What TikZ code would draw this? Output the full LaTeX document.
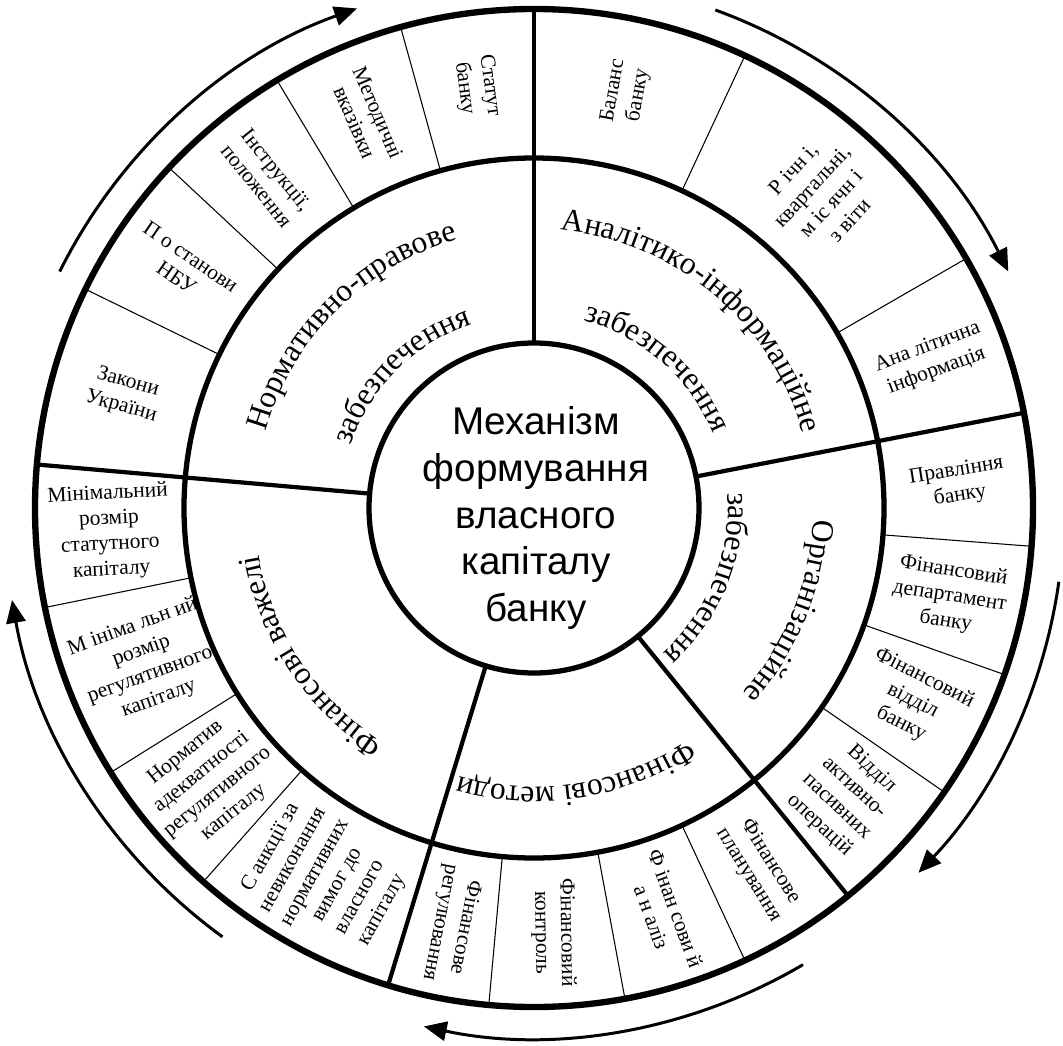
\documentclass[tikz,border=0pt]{standalone}
\usepackage{fontspec}
\setmainfont{Liberation Serif}
\setsansfont{Liberation Sans}
\usetikzlibrary{arrows.meta}
\usetikzlibrary{decorations.text}

\tikzset{
    cell/.style={align=center, inner sep=0pt, font=\fontsize{12.2}{14.5}\selectfont},
    ring/.style={line width=3pt},
    border/.style={line width=2.4pt},
    thinborder/.style={line width=0.6pt},
    flow/.style={line width=1.7pt, -{Triangle[length=13pt, width=11pt]}},
    sectortext/.style={decorate, decoration={text along path, text align=center, text={#1}}},
}
\newcommand{\sectorfont}{\fontsize{18}{21}\selectfont}

\begin{document}
\begin{tikzpicture}[scale=0.02]
    \useasboundingbox (-534,-537) rectangle (529,508);
    \coordinate (O) at (0,0);
    \pgfmathsetmacro{\Rin}{165}  % units of pixels
    \pgfmathsetmacro{\Rmid}{350}  % units of pixels
    \pgfmathsetmacro{\Rout}{499}  % units of pixels
    \pgfmathsetmacro{\Rcell}{425}  % units of pixels
    \pgfmathsetmacro{\Rflow}{530}  % units of pixels
    \pgfmathsetmacro{\Rone}{279}  % baseline of first line
    \pgfmathsetmacro{\Rtwo}{194}  % baseline of second line

    % circles
    \draw[ring] (O) circle (\Rin);
    \draw[ring] (O) circle (\Rmid);
    \draw[ring, line width=3.6pt] (O) circle (\Rout);

    % sector borders
    \foreach \a in {90,11,-51,-107,175}
        \draw[border] (\a:\Rin) -- (\a:\Rout);
    % cell borders
    \foreach \a in {154,137,121,105.5,65,30,-4.4,-19.5,-34.7,-65,-79.5,-95.2,191.5,212,228.5}
        \draw[thinborder] (\a:\Rmid) -- (\a:\Rout);

    % arrows round the wheel
    \draw[flow] (153.5:\Rflow) arc (153.5:109.5:\Rflow);
    \draw[flow] (70:\Rflow) arc (70:26.5:\Rflow);
    \draw[flow] (-8:\Rflow) arc (-8:-43.5:\Rflow);
    \draw[flow] (-59.5:\Rflow) arc (-59.5:-102:\Rflow);
    \draw[flow] (234:\Rflow) arc (234:190:\Rflow);

    % centre
    \node[align=center, font=\sffamily\fontsize{22}{26.5}\selectfont] (title) at (2,-10)
        {Механізм\\формування\\власного\\капіталу\\банку};

    % sectors (text along arcs)
    \path[sectortext={|\sectorfont|Нормативно-правове}] (195:\Rone) arc (195:75:\Rone);
    \path[sectortext={|\sectorfont|забезпечення}] (195:\Rtwo) arc (195:75:\Rtwo);
    \path[sectortext={|\sectorfont|Аналітико-інформаційне}] (110:\Rone) arc (110:-10:\Rone);
    \path[sectortext={|\sectorfont|забезпечення}] (109:\Rtwo) arc (109:-11:\Rtwo);
    \path[sectortext={|\sectorfont|Організаційне}] (38:\Rone) arc (38:-82:\Rone);
    \path[sectortext={|\sectorfont|забезпечення}] (38:\Rtwo) arc (38:-82:\Rtwo);
    \path[sectortext={|\sectorfont|Фінансові методи}] (-21:\Rone) arc (-21:-141:\Rone);
    \path[sectortext={|\sectorfont|Фінансові важелі}] (273.5:\Rone) arc (273.5:153.5:\Rone);

    % normative cells
    \node[cell, rotate=-15.5] (zakon) at (164.5:\Rcell) {Закони\\України};
    \node[cell, rotate=-34.5] (postan) at (145.5:\Rcell) {П о станови\\НБУ};
    \node[cell, rotate=-51] (instr) at (129:\Rcell) {Інструкції,\\положення};
    \node[cell, rotate=-66.75] (metod) at (113.25:\Rcell) {Методичні\\вказівки};
    \node[cell, rotate=-82.25] (statut) at (97.75:\Rcell) {Статут\\банку};
    % analytic cells
    \node[cell, rotate=80] (balans) at (77.5:\Rcell) {Баланс\\банку};
    \node[cell, rotate=47.5] (zvit) at (47.5:\Rcell) {Р ічн і,\\квартальні,\\м іс ячн і\\з віти};
    \node[cell, rotate=20.5] (analit) at (20.5:\Rcell) {Ана літична\\інформація};
    % organisation cells
    \node[cell, rotate=9] (pravl) at (3.3:\Rcell) {Правління\\банку};
    \node[cell, rotate=-9] (fdep) at (-12:\Rcell) {Фінансовий\\департамент\\банку};
    \node[cell, rotate=-27] (fvid) at (-27:\Rcell) {Фінансовий\\відділ\\банку};
    \node[cell, rotate=-43] (vapo) at (-42.9:\Rcell) {Відділ\\активно-\\пасивних\\операцій};
    % method cells
    \node[cell, rotate=-58] (fplan) at (-58:\Rcell) {Фінансове\\планування};
    \node[cell, rotate=-70] (fanal) at (-72.25:\Rcell) {Ф інан сови й\\а н аліз};
    \node[cell, rotate=-89] (fkontr) at (-87.35:\Rcell) {Фінансовий\\контроль};
    \node[cell, rotate=-101] (freg) at (-101.1:\Rcell) {Фінансове\\регулювання};
    % lever cells
    \node[cell, rotate=3] (minst) at (183.25:\Rcell) {Мінімальний\\розмір\\статутного\\капіталу};
    \node[cell, rotate=20] (minreg) at (201.75:418) {М ініма льн ий\\розмір\\регулятивного\\капіталу};
    \node[cell, rotate=39] (normat) at (220.25:\Rcell) {Норматив\\адекватності\\регулятивного\\капіталу};
    \node[cell, rotate=60.75] (sankc) at (240.75:\Rcell) {С анкції за\\невиконання\\нормативних\\вимог до\\власного\\капіталу};
\end{tikzpicture}
\end{document}
